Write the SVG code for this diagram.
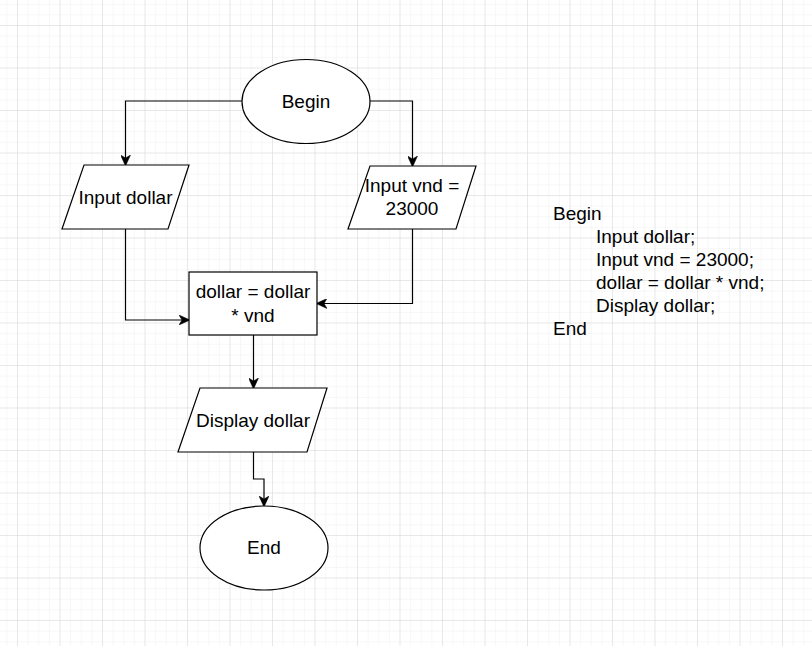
<svg xmlns="http://www.w3.org/2000/svg" width="812" height="646" viewBox="0 0 812 646">
<style>
.shape{fill:#ffffff;stroke:#000000;stroke-width:1.2}
.conn{fill:none;stroke:#000000;stroke-width:1.2}
text{font-family:"Liberation Sans",Arial,sans-serif;font-size:19px;fill:#000000}
.c{text-anchor:middle}
</style>
<defs>
<pattern id="minor" patternUnits="userSpaceOnUse" x="17" y="25" width="10.625" height="10.625">
<path d="M0,0 H10.625 M0,0 V10.625" fill="none" stroke="#f0f0f0" stroke-width="1"/>
</pattern>
<pattern id="major" patternUnits="userSpaceOnUse" x="17" y="25" width="42.5" height="42.5">
<path d="M0,0 H42.5 M0,0 V42.5" fill="none" stroke="#dadada" stroke-width="1"/>
</pattern>
<marker id="arr" markerUnits="userSpaceOnUse" markerWidth="12" markerHeight="10" refX="10" refY="5" orient="auto" viewBox="0 0 12 10">
<path d="M0,0 L11,5 L0,10 L3,5 Z" fill="#000000" stroke="#000000" stroke-width="0.5"/>
</marker>
</defs>
<rect width="812" height="646" fill="#ffffff"/>
<rect width="812" height="646" fill="url(#minor)"/>
<rect width="812" height="646" fill="url(#major)"/>

<g id="connectors">
<path class="conn" d="M242,101 H125.5 V165" marker-end="url(#arr)"/>
<path class="conn" d="M370,101 H412.5 V166" marker-end="url(#arr)"/>
<path class="conn" d="M125.5,229 V320 H189" marker-end="url(#arr)"/>
<path class="conn" d="M412.5,229 V303.5 H317" marker-end="url(#arr)"/>
<path class="conn" d="M253.5,335 V388" marker-end="url(#arr)"/>
<path class="conn" d="M253.5,452 V479 H264 V506" marker-end="url(#arr)"/>
</g>

<g id="begin">
<ellipse class="shape" cx="306" cy="101.5" rx="64" ry="42"/>
<text class="c" x="306" y="108">Begin</text>
</g>
<g id="input-dollar">
<polygon class="shape" points="84,165 189,165 168,229 62,229"/>
<text class="c" x="125.5" y="204">Input dollar</text>
</g>
<g id="input-vnd">
<polygon class="shape" points="370,166 476,166 456,229 348,229"/>
<text class="c" x="412" y="192">Input vnd =</text>
<text class="c" x="412" y="215">23000</text>
</g>
<g id="process">
<rect class="shape" x="189" y="272" width="128" height="63"/>
<text class="c" x="253" y="298">dollar = dollar</text>
<text class="c" x="253" y="322">* vnd</text>
</g>
<g id="display">
<polygon class="shape" points="200,388 327,388 307,452 178,452"/>
<text class="c" x="253" y="427">Display dollar</text>
</g>
<g id="end">
<ellipse class="shape" cx="264" cy="548" rx="64" ry="42"/>
<text class="c" x="264" y="554">End</text>
</g>

<g id="pseudocode">
<text x="553" y="220">Begin</text>
<text x="596" y="243">Input dollar;</text>
<text x="596" y="266">Input vnd = 23000;</text>
<text x="596" y="289">dollar = dollar * vnd;</text>
<text x="596" y="312">Display dollar;</text>
<text x="553" y="335">End</text>
</g>
</svg>
